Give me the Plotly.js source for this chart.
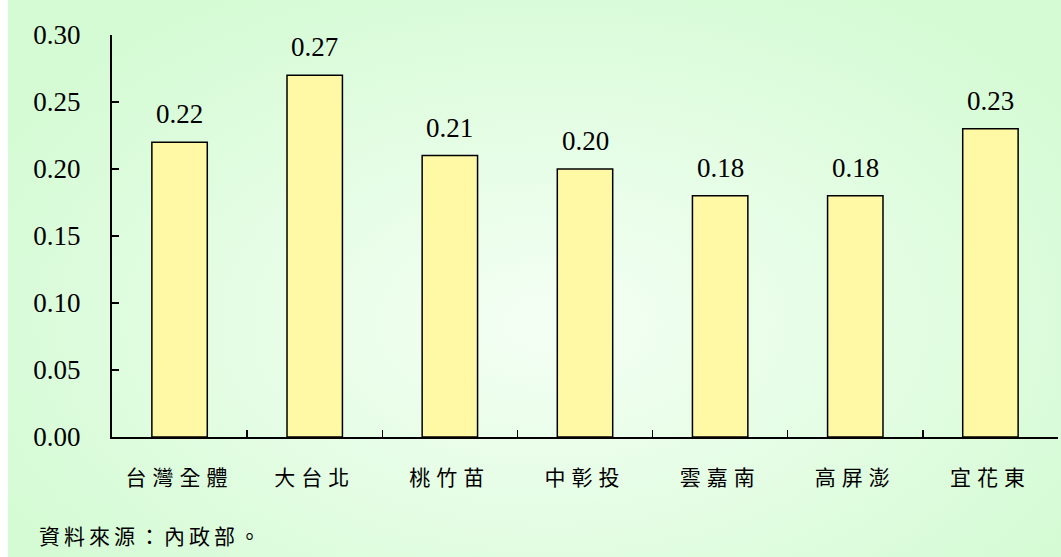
<!DOCTYPE html>
<html>
<head>
<meta charset="utf-8">
<script src="https://cdn.plot.ly/plotly-3.0.1.min.js"></script>
<style>
  html, body { margin: 0; padding: 0; background: #ffffff; }
  #chart {
    width: 1061px; height: 557px;
    background:
      linear-gradient(to right, #ffffff 8px, rgba(255,255,255,0) 8px),
      radial-gradient(ellipse 60% 70% at 52% 58%, #f4fff4 0%, #e6fde6 45%, #d4fbd4 100%);
  }
  #chart .xaxislayer-above .xtick text { letter-spacing: 6px; }
</style>
</head>
<body>
<div id="chart"></div>
<script>
const categories = ["台灣全體", "大台北", "桃竹苗", "中彰投", "雲嘉南", "高屏澎", "宜花東"];
const values = [0.22, 0.27, 0.21, 0.20, 0.18, 0.18, 0.23];
const yTickValues = [0, 0.05, 0.10, 0.15, 0.20, 0.25, 0.30];
const sourceNote = "資料來源：內政部。";

const serif = "Liberation Serif";
const cjk = "Noto Sans CJK TC";

const trace = {
  type: "bar",
  x: categories,
  y: values,
  marker: { color: "#fff9a6", line: { color: "#000000", width: 1.5 } },
  hoverinfo: "skip"
};

const valueLabels = categories.map((c, i) => ({
  x: c, y: values[i], xref: "x", yref: "y",
  text: values[i].toFixed(2),
  showarrow: false, yanchor: "bottom", yshift: 11,
  font: { family: serif, size: 27, color: "#000000" }
}));

const layout = {
  width: 1061, height: 557,
  margin: { l: 112, r: 3, t: 35, b: 120 },
  paper_bgcolor: "rgba(0,0,0,0)",
  plot_bgcolor: "rgba(0,0,0,0)",
  showlegend: false,
  bargap: 0.59,
  xaxis: {
    type: "category",
    showline: true, linecolor: "#000000", linewidth: 2,
    ticks: "inside", ticklen: 7, tickwidth: 1.5, tickcolor: "#000000",
    tickson: "boundaries",
    showgrid: false, zeroline: false,
    tickfont: { family: cjk, size: 21, color: "#000000" },
    ticklabelstandoff: 21
  },
  yaxis: {
    range: [0, 0.30],
    tickvals: yTickValues,
    tickformat: ".2f",
    showline: true, linecolor: "#000000", linewidth: 2,
    ticks: "inside", ticklen: 7, tickwidth: 1.5, tickcolor: "#000000",
    showgrid: false, zeroline: false,
    tickfont: { family: serif, size: 27, color: "#000000" },
    ticklabelstandoff: 24
  },
  annotations: valueLabels.concat([{
    xref: "paper", yref: "paper",
    x: -0.060, y: -0.2438,
    xanchor: "left", yanchor: "middle",
    text: sourceNote, showarrow: false,
    font: { family: cjk, size: 21, color: "#000000" }
  }])
};

Plotly.newPlot("chart", [trace], layout, { displayModeBar: false, staticPlot: true }).then(() => {
  const notes = document.querySelectorAll("#chart .annotation");
  const last = notes[notes.length - 1];
  if (last) {
    const t = last.querySelector("text");
    if (t) t.style.letterSpacing = "4px";
  }
});
</script>
</body>
</html>
